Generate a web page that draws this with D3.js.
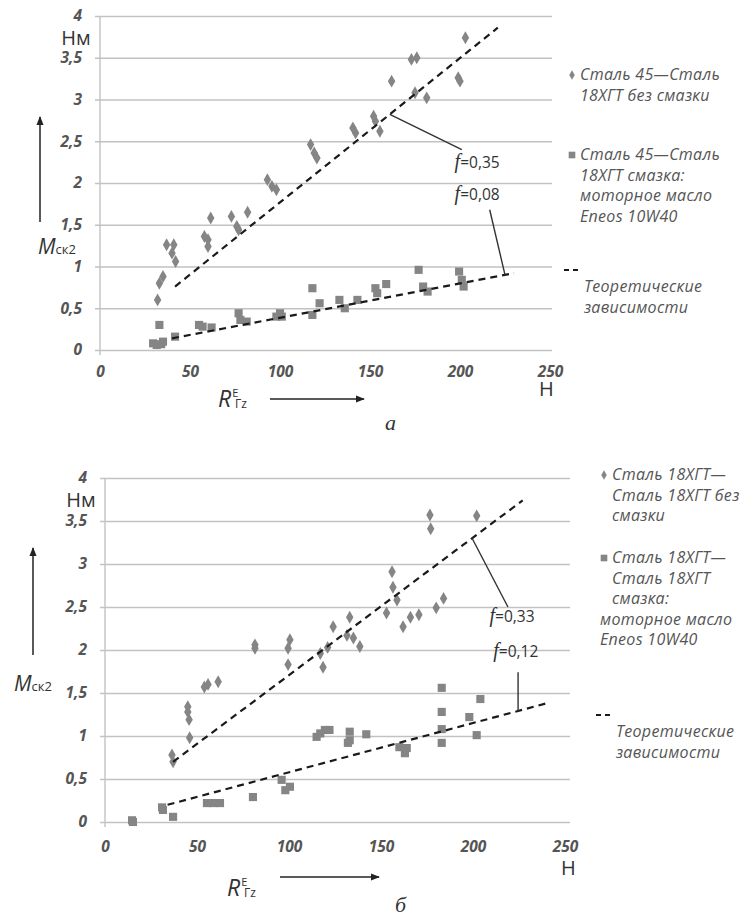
<!DOCTYPE html>
<html>
<head>
<meta charset="utf-8">
<script src="https://cdn.jsdelivr.net/npm/d3@7"></script>
<style>
  body { margin: 0; background: #fff; }
  text { font-family: "Open Sans", sans-serif; }
</style>
</head>
<body>
<svg id="chart" width="753" height="920"></svg>
<script>
// ---- data ----
var xTicks = [0, 50, 100, 150, 200, 250]
var yTicks = [0, 0.5, 1, 1.5, 2, 2.5, 3, 3.5, 4]

// panel a
var topDiamondX = [32, 33, 35, 37, 40, 41, 42, 58, 60, 60, 61.5, 73, 76, 77, 82, 93, 95.5, 98, 117, 119, 120.5, 140.5, 142, 152, 153, 155.5, 162, 173, 176, 175, 181.5, 199, 200, 203]
var topDiamondY = [0.6, 0.8, 0.88, 1.26, 1.16, 1.26, 1.06, 1.36, 1.32, 1.24, 1.58, 1.6, 1.48, 1.44, 1.65, 2.04, 1.96, 1.92, 2.46, 2.36, 2.3, 2.66, 2.6, 2.8, 2.74, 2.62, 3.22, 3.48, 3.5, 3.08, 3.02, 3.26, 3.22, 3.74]
var topSquareX = [29.5, 31.5, 34, 33, 35, 41.7, 55, 57, 62, 77, 78, 81.5, 98, 100, 101, 118, 118, 122, 133, 136, 143, 153, 154, 159, 177, 179.5, 182, 199.5, 201, 202]
var topSquareY = [0.08, 0.06, 0.07, 0.3, 0.1, 0.16, 0.3, 0.28, 0.27, 0.44, 0.36, 0.34, 0.4, 0.44, 0.4, 0.74, 0.42, 0.56, 0.6, 0.5, 0.6, 0.74, 0.68, 0.79, 0.96, 0.76, 0.7, 0.94, 0.84, 0.76]
var topFitDryX = [41.7, 221], topFitDryY = [0.76, 3.86]
var topFitOilX = [40, 230], topFitOilY = [0.14, 0.92]
var topLegend = [
  ['Сталь 45—Сталь', '18ХГТ без смазки'],
  ['Сталь 45—Сталь', '18ХГТ смазка:', 'моторное масло', 'Eneos 10W40'],
  ['Теоретические', 'зависимости']
]
var topNotes = [
  { f: '0,35', atX: 161, endX: 201, endY: 2.4, labX: 197, labY: 2.18 },
  { f: '0,08', atX: 225, endX: 216.5, endY: 1.68, labX: 197, labY: 1.8 }
]

// panel б
var botDiamondX = [36.4, 37, 46, 45, 45, 45.7, 54, 56, 61.5, 81.5, 81.5, 100.5, 99.5, 99.5, 117, 118.5, 121, 124, 131.5, 133, 135, 138.5, 153, 156, 156.5, 158.7, 162, 166, 170.6, 180, 184, 176.6, 177, 202]
var botDiamondY = [0.78, 0.7, 0.98, 1.34, 1.28, 1.19, 1.57, 1.6, 1.63, 2.06, 2.02, 2.12, 2.02, 1.83, 1.96, 1.8, 2.03, 2.27, 2.17, 2.38, 2.14, 2.04, 2.43, 2.91, 2.73, 2.58, 2.27, 2.38, 2.41, 2.49, 2.6, 3.57, 3.41, 3.56]
var botSquareX = [14.7, 15.2, 31, 31.5, 37, 55.4, 58.7, 62.5, 80.4, 96, 98, 100.5, 115, 117, 119.5, 122, 133, 133, 132, 142, 160, 163, 164, 183, 183, 183, 183, 198, 204, 202]
var botSquareY = [0.02, 0, 0.17, 0.14, 0.06, 0.22, 0.22, 0.22, 0.29, 0.49, 0.37, 0.41, 0.99, 1.03, 1.07, 1.07, 1.05, 0.95, 0.92, 1.02, 0.87, 0.8, 0.86, 1.56, 1.28, 1.08, 0.92, 1.22, 1.43, 1.01]
var botFitDryX = [37, 227], botFitDryY = [0.7, 3.74]
var botFitOilX = [34, 240], botFitOilY = [0.2, 1.38]
var botLegend = [
  ['Сталь 18ХГТ—', 'Сталь 18ХГТ без', 'смазки'],
  ['Сталь 18ХГТ—', 'Сталь 18ХГТ', 'смазка:', 'моторное масло', 'Eneos 10W40'],
  ['Теоретические', 'зависимости']
]
var botNotes = [
  { f: '0,33', atX: 199.5, endX: 219, endY: 2.5, labX: 209, labY: 2.33 },
  { f: '0,12', atX: 224.5, endX: 224.5, endY: 1.74, labX: 211, labY: 1.92 }
]

var markColor = '#858585'
var svg = d3.select('#chart')

svg.append('defs').append('marker')
  .attr('id', 'arrow').attr('viewBox', '0 0 10 10')
  .attr('refX', 9).attr('refY', 5)
  .attr('markerWidth', 6).attr('markerHeight', 6)
  .attr('orient', 'auto')
  .append('path').attr('d', 'M0,1L10,5L0,9z').attr('fill', '#222')

function zip(xs, ys) {
  return xs.map(function (v, i) { return { x: v, y: ys[i] } })
}

function drawPanel(p) {
  var x = d3.scaleLinear().domain([0, 250]).range(p.xr)
  var y = d3.scaleLinear().domain([0, 4]).range(p.yr)
  var g = svg.append('g')

  // horizontal grid + y labels
  var yAxis = g.append('g')
    .attr('transform', 'translate(' + (p.xr[0] - 5) + ',0)')
    .call(d3.axisLeft(y).tickValues(yTicks)
      .tickSize(-(p.gridEnd - p.xr[0] + 5)).tickPadding(13)
      .tickFormat(function (d) { return String(d).replace('.', ',') }))
  yAxis.select('.domain').remove()
  yAxis.selectAll('line').attr('stroke', '#c2c2c2').attr('stroke-width', 1.5)
  yAxis.selectAll('text').attr('fill', '#555').attr('font-size', 15.5)
    .attr('font-weight', 'bold').attr('font-style', 'italic')

  g.append('line')
    .attr('x1', p.xr[0]).attr('x2', p.xr[0])
    .attr('y1', y(4)).attr('y2', y(0) + 5)
    .attr('stroke', '#c2c2c2').attr('stroke-width', 1.4)

  var xAxis = g.append('g')
    .attr('transform', 'translate(0,' + y(0) + ')')
    .call(d3.axisBottom(x).tickValues(xTicks).tickSize(0).tickPadding(p.xPad))
  xAxis.select('.domain').remove()
  xAxis.selectAll('text').attr('fill', '#555').attr('font-size', 15.5)
    .attr('font-weight', 'bold').attr('font-style', 'italic')

  // points
  g.append('g').selectAll('path').data(zip(p.dx, p.dy)).enter().append('path')
    .attr('d', d3.symbol().type(d3.symbolDiamond).size(48))
    .attr('transform', function (d) { return 'translate(' + x(d.x) + ',' + y(d.y) + ')' })
    .attr('fill', markColor)
  g.append('g').selectAll('path').data(zip(p.sx, p.sy)).enter().append('path')
    .attr('d', d3.symbol().type(d3.symbolSquare).size(66))
    .attr('transform', function (d) { return 'translate(' + x(d.x) + ',' + y(d.y) + ')' })
    .attr('fill', markColor)

  // theoretical lines
  var line = d3.line().x(function (d) { return x(d.x) }).y(function (d) { return y(d.y) })
  var fits = [zip(p.f1x, p.f1y), zip(p.f2x, p.f2y)]
  g.selectAll('.fit').data(fits).enter().append('path')
    .attr('d', line).attr('fill', 'none')
    .attr('stroke', '#1a1a1a').attr('stroke-width', 2.2).attr('stroke-dasharray', '7,5')

  // f annotations
  p.notes.forEach(function (n, i) {
    var f = fits[i]
    var t = (n.atX - f[0].x) / (f[1].x - f[0].x)
    var ay = f[0].y + t * (f[1].y - f[0].y)
    g.append('line')
      .attr('x1', x(n.atX)).attr('y1', y(ay))
      .attr('x2', x(n.endX)).attr('y2', y(n.endY))
      .attr('stroke', '#333').attr('stroke-width', 1.4)
    var tx = g.append('text').attr('x', x(n.labX)).attr('y', y(n.labY))
      .attr('fill', '#333').attr('font-size', 15.5)
    tx.append('tspan').text('f').attr('font-style', 'italic')
      .style('font-family', '"Liberation Serif", serif').attr('font-size', 20)
    tx.append('tspan').text('=' + n.f)
  })

  // axis titles
  g.append('text').attr('x', p.xr[0] - 24).attr('y', y(4) + 29)
    .attr('font-size', 20).attr('fill', '#333').attr('text-anchor', 'middle').text('Нм')
  var m = g.append('text').attr('x', p.mPos[0]).attr('y', p.mPos[1]).attr('fill', '#333')
  m.append('tspan').text('M').attr('font-size', 21).attr('font-style', 'italic')
  m.append('tspan').text('ск2').attr('font-size', 13)
  g.append('line').attr('x1', p.upArrow[0]).attr('x2', p.upArrow[0])
    .attr('y1', p.upArrow[1]).attr('y2', p.upArrow[2])
    .attr('stroke', '#222').attr('stroke-width', 1.5).attr('marker-end', 'url(#arrow)')

  var r = g.append('text').attr('x', p.rPos[0]).attr('y', p.rPos[1]).attr('fill', '#333')
  r.append('tspan').text('R').attr('font-size', 23).attr('font-style', 'italic')
  r.append('tspan').text('E').attr('font-size', 11).attr('dy', -10).attr('dx', 1)
  g.append('text').attr('x', p.rPos[0] + 17).attr('y', p.rPos[1] + 1)
    .attr('fill', '#333').attr('font-size', 12).text('Гz')
  g.append('line').attr('x1', p.rightArrow[0]).attr('x2', p.rightArrow[1])
    .attr('y1', p.rightArrow[2]).attr('y2', p.rightArrow[2])
    .attr('stroke', '#222').attr('stroke-width', 1.5).attr('marker-end', 'url(#arrow)')

  g.append('text').attr('x', p.hPos[0]).attr('y', p.hPos[1])
    .attr('font-size', 20).attr('fill', '#333').text('Н')
  g.append('text').attr('x', p.capPos[0]).attr('y', p.capPos[1])
    .attr('font-size', 22).attr('font-style', 'italic').attr('fill', '#333')
    .style('font-family', '"Liberation Serif", serif').text(p.caption)

  // legend
  p.legend.forEach(function (lines, i) {
    var ly = p.legY[i]
    if (i < 2) {
      g.append('path')
        .attr('d', d3.symbol().type(i == 0 ? d3.symbolDiamond : d3.symbolSquare).size(i == 0 ? 26 : 44))
        .attr('transform', 'translate(' + (p.legX - 8) + ',' + (ly - 5) + ')')
        .attr('fill', markColor)
    } else {
      g.append('line').attr('x1', p.legX - 16).attr('x2', p.legX + 2)
        .attr('y1', ly - 22).attr('y2', ly - 22)
        .attr('stroke', '#1a1a1a').attr('stroke-width', 2).attr('stroke-dasharray', '5,4')
    }
    var tx = g.append('text').attr('fill', '#555').attr('font-size', 16)
      .attr('font-style', 'italic').attr('letter-spacing', 0.3)
    lines.forEach(function (s, k) {
      var dx = i == 2 ? 4 : (k > 2 ? p.legShift : 0)
      tx.append('tspan').attr('x', p.legX + dx).attr('y', ly + k * 20.5).text(s)
    })
  })
}

drawPanel({
  xr: [100, 550], yr: [350, 16], gridEnd: 552, xPad: 16,
  dx: topDiamondX, dy: topDiamondY, sx: topSquareX, sy: topSquareY,
  f1x: topFitDryX, f1y: topFitDryY, f2x: topFitOilX, f2y: topFitOilY,
  notes: topNotes, legend: topLegend,
  legX: 580, legY: [80, 160, 292], legShift: 0,
  mPos: [38, 254], upArrow: [40, 222, 117],
  rPos: [218, 407], rightArrow: [270, 364, 399],
  hPos: [539, 396], capPos: [385, 430], caption: 'а'
})

drawPanel({
  xr: [105, 565], yr: [822, 478], gridEnd: 570, xPad: 19,
  dx: botDiamondX, dy: botDiamondY, sx: botSquareX, sy: botSquareY,
  f1x: botFitDryX, f1y: botFitDryY, f2x: botFitOilX, f2y: botFitOilY,
  notes: botNotes, legend: botLegend,
  legX: 612, legY: [480, 563, 737], legShift: -12,
  mPos: [14, 691], upArrow: [33, 655, 548],
  rPos: [227, 896], rightArrow: [280, 379, 877],
  hPos: [561, 875], capPos: [395, 912], caption: 'б'
})
</script>
</body>
</html>
